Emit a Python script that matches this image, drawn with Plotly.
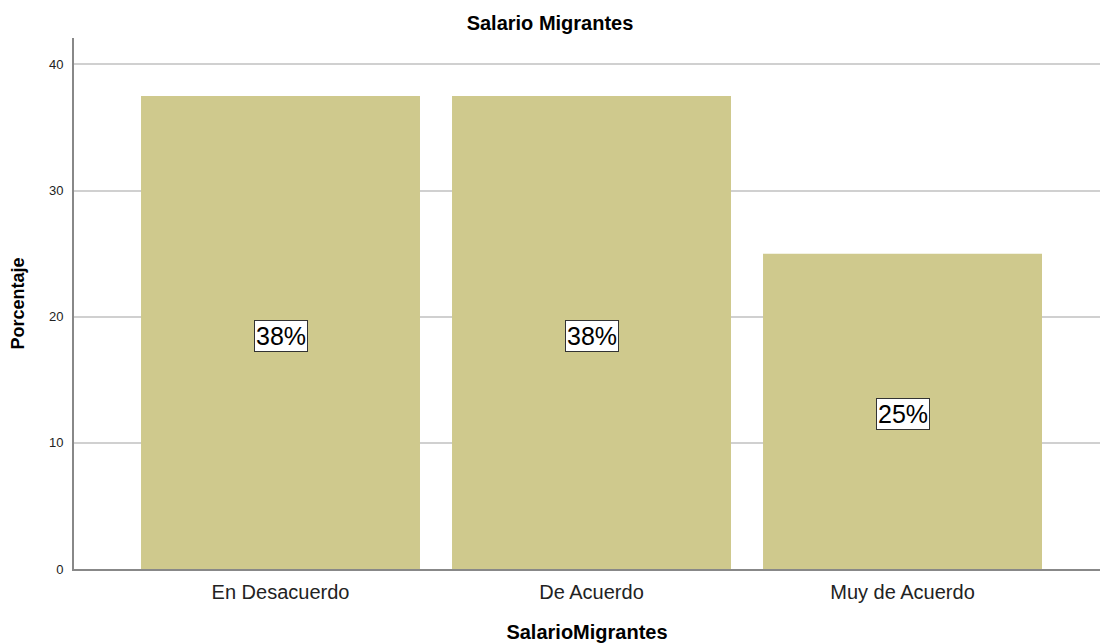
import plotly.graph_objects as go

categories = ["En Desacuerdo", "De Acuerdo", "Muy de Acuerdo"]
percentages = [37.5, 37.5, 25.0]
labels = ["38%", "38%", "25%"]

bar_color = "#cfc98d"

fig = go.Figure()
fig.add_trace(go.Bar(
    x=categories, y=percentages,
    marker=dict(color=bar_color, line=dict(width=0)),
    width=0.897, hoverinfo="x+y",
))

for c, v, t in zip(categories, percentages, labels):
    fig.add_annotation(
        x=c, y=v / 2, text=t, showarrow=False,
        font=dict(family="Liberation Sans, Arial", size=25, color="#000000"),
        bgcolor="white", bordercolor="#333333", borderwidth=1, borderpad=1,
        yshift=-3,
    )

fig.update_layout(
    width=1100, height=643,
    margin=dict(l=74, r=0, t=38, b=74),
    paper_bgcolor="white", plot_bgcolor="white",
    font=dict(family="Liberation Sans, Arial", color="#000000"),
    showlegend=False,
    title=dict(text="<b>Salario Migrantes</b>", x=0.5, xanchor="center",
               y=0.964, yanchor="middle", font=dict(size=20)),
    bargap=0.103,
)
fig.update_xaxes(
    range=[-0.664, 2.635], automargin=False,
    showline=True, linecolor="#888888", linewidth=2,
    showgrid=False, ticks="outside", tickcolor="rgba(0,0,0,0)", ticklen=4,
    tickfont=dict(size=20, color="#222222"),
    title=dict(text="<b>SalarioMigrantes</b>", font=dict(size=20), standoff=24),
)
fig.update_yaxes(
    range=[0, 42.1], automargin=False,
    tickvals=[0, 10, 20, 30, 40],
    showline=True, linecolor="#888888", linewidth=2,
    showgrid=True, gridcolor="#d0d0d0", gridwidth=1.5,
    zeroline=False,
    ticks="outside", tickcolor="rgba(0,0,0,0)", ticklen=6,
    tickfont=dict(size=13, color="#222222"),
    title=dict(text="<b>Porcentaje</b>", font=dict(size=18), standoff=20),
)

fig.write_html(
    "out.html",
    config={"displayModeBar": False},
    post_script="document.body.style.margin='0';document.body.style.overflow='hidden';",
)
